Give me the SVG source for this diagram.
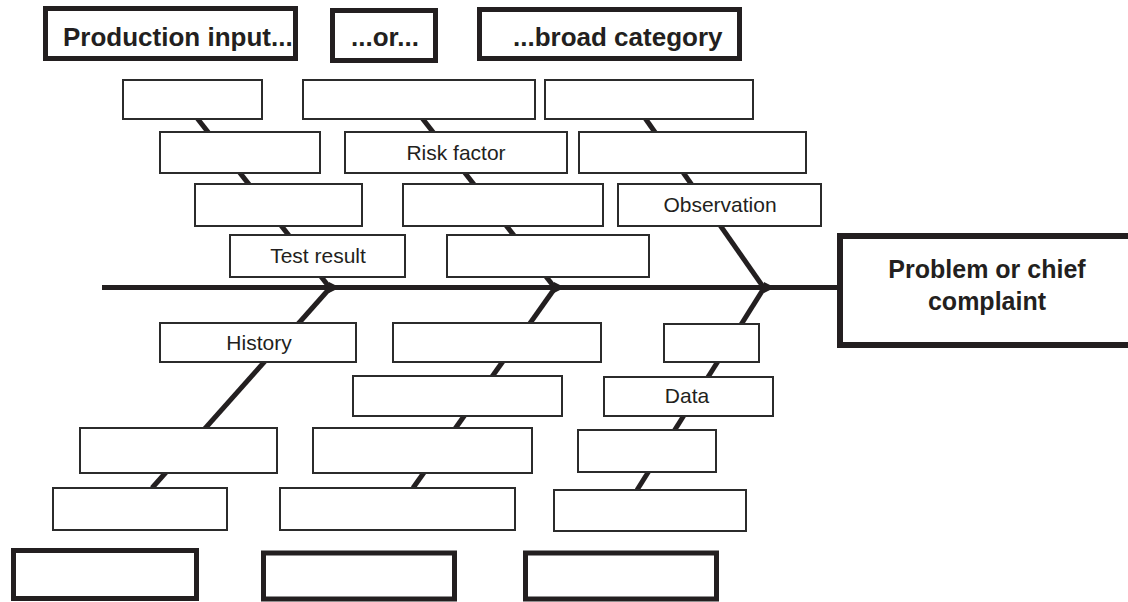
<svg xmlns="http://www.w3.org/2000/svg" width="1128" height="602" viewBox="0 0 1128 602">
<style>
.bg{fill:#ffffff}
.box{fill:#ffffff;stroke:#2b2b2b;stroke-width:2}
.hdr{fill:#ffffff;stroke:#231f20;stroke-width:5}
.main{fill:#ffffff;stroke:#231f20;stroke-width:6}
.bone{stroke:#231f20;stroke-width:5;fill:none;stroke-linecap:butt}
.spine{stroke:#231f20;stroke-width:5;fill:none}
.head{fill:#231f20}
.lbl{font-family:"Liberation Sans",Arial,sans-serif;font-size:21px;fill:#231f20;text-anchor:middle}
.htxt{font-family:"Liberation Sans",Arial,sans-serif;font-size:26px;font-weight:bold;fill:#231f20}
.ptxt{font-family:"Liberation Sans",Arial,sans-serif;font-size:25px;font-weight:bold;fill:#231f20;text-anchor:middle}
</style>
<rect class="bg" x="0" y="0" width="1128" height="602"/>

<g id="connectors">
  <line class="spine" x1="102" y1="287.5" x2="840" y2="287.5"/>
  <!-- upper bones -->
  <line class="bone" x1="197" y1="118" x2="330" y2="288"/>
  <line class="bone" x1="422" y1="118" x2="555" y2="288"/>
  <line class="bone" x1="645" y1="118" x2="764" y2="288"/>
  <!-- lower bones -->
  <line class="bone" x1="330" y1="288" x2="152" y2="488"/>
  <line class="bone" x1="555" y1="288" x2="413" y2="488"/>
  <line class="bone" x1="764" y1="288" x2="637" y2="490"/>
  <!-- arrowheads -->
  <polygon class="head" points="329,282 340,287.5 329,293"/>
  <polygon class="head" points="554,282 565,287.5 554,293"/>
  <polygon class="head" points="764,282 775,287.5 764,293"/>
</g>

<g id="header-production"><rect class="hdr" x="45.5" y="8.5" width="250" height="50"/><text class="htxt" x="63" y="46">Production input...</text></g>
<g id="header-or"><rect class="hdr" x="332.5" y="10.5" width="103" height="50"/><text class="htxt" x="385" y="46" text-anchor="middle">...or...</text></g>
<g id="header-broad"><rect class="hdr" x="479.5" y="9.5" width="260" height="49"/><text class="htxt" x="513" y="46">...broad category</text></g>

<g id="u1a"><rect class="box" x="123" y="80" width="139" height="39"/></g>
<g id="u1b"><rect class="box" x="303" y="80" width="232" height="39"/></g>
<g id="u1c"><rect class="box" x="545" y="80" width="208" height="39"/></g>

<g id="u2a"><rect class="box" x="160" y="132" width="160" height="41"/></g>
<g id="u2b"><rect class="box" x="345" y="132" width="222" height="41"/><text class="lbl" x="456" y="160">Risk factor</text></g>
<g id="u2c"><rect class="box" x="579" y="132" width="227" height="41"/></g>

<g id="u3a"><rect class="box" x="195" y="184" width="167" height="42"/></g>
<g id="u3b"><rect class="box" x="403" y="184" width="200" height="42"/></g>
<g id="u3c"><rect class="box" x="618" y="184" width="203" height="42"/><text class="lbl" x="720" y="212">Observation</text></g>

<g id="u4a"><rect class="box" x="230" y="235" width="175" height="42"/><text class="lbl" x="318" y="263">Test result</text></g>
<g id="u4b"><rect class="box" x="447" y="235" width="202" height="42"/></g>

<g id="problem"><rect class="main" x="840" y="236" width="300" height="109"/><text class="ptxt" x="987" y="278">Problem or chief</text><text class="ptxt" x="987" y="310">complaint</text></g>

<g id="l1a"><rect class="box" x="160" y="323" width="196" height="39"/><text class="lbl" x="259" y="350">History</text></g>
<g id="l1b"><rect class="box" x="393" y="323" width="208" height="39"/></g>
<g id="l1c"><rect class="box" x="664" y="324" width="95" height="38"/></g>

<g id="l2b"><rect class="box" x="353" y="376" width="209" height="40"/></g>
<g id="l2c"><rect class="box" x="604" y="377" width="169" height="39"/><text class="lbl" x="687" y="403">Data</text></g>

<g id="l3a"><rect class="box" x="80" y="428" width="197" height="45"/></g>
<g id="l3b"><rect class="box" x="313" y="428" width="219" height="45"/></g>
<g id="l3c"><rect class="box" x="578" y="430" width="138" height="42"/></g>

<g id="l4a"><rect class="box" x="53" y="488" width="174" height="42"/></g>
<g id="l4b"><rect class="box" x="280" y="488" width="235" height="42"/></g>
<g id="l4c"><rect class="box" x="554" y="490" width="192" height="41"/></g>

<g id="bottom-1"><rect class="hdr" x="13.5" y="550.5" width="183" height="48"/></g>
<g id="bottom-2"><rect class="hdr" x="263.5" y="553" width="191" height="46"/></g>
<g id="bottom-3"><rect class="hdr" x="525.5" y="553" width="191" height="46"/></g>
</svg>
